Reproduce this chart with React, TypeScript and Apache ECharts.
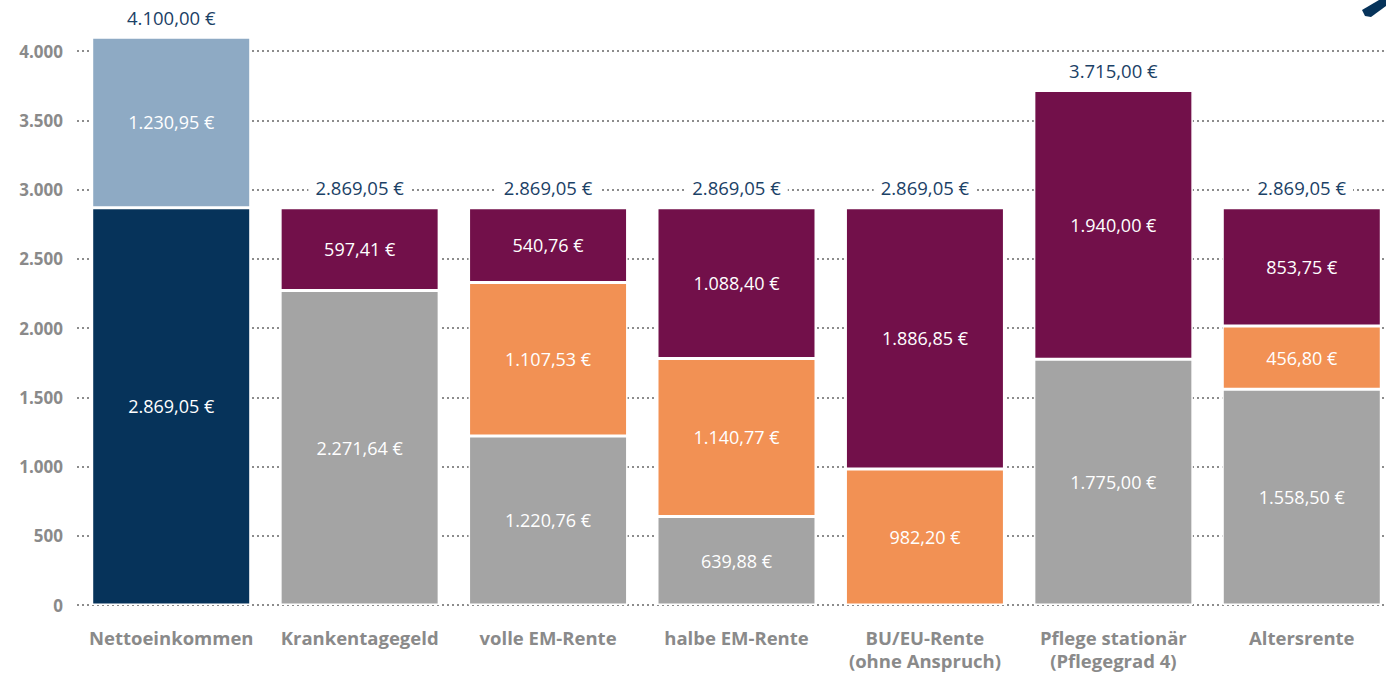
import React, { useEffect, useRef } from "react";
import * as echarts from "echarts";

const categories = [
  "Nettoeinkommen",
  "Krankentagegeld",
  "volle EM-Rente",
  "halbe EM-Rente",
  "BU/EU-Rente\n(ohne Anspruch)",
  "Pflege stationär\n(Pflegegrad 4)",
  "Altersrente",
];
const baseValues: (number | null)[] = [2869.05, 2271.64, 1220.76, 639.88, null, 1775.0, 1558.5];
const orangeValues: (number | null)[] = [null, null, 1107.53, 1140.77, 982.2, null, 456.8];
const topValues: (number | null)[] = [1230.95, 597.41, 540.76, 1088.4, 1886.85, 1940.0, 853.75];
const totals = [4100.0, 2869.05, 2869.05, 2869.05, 2869.05, 3715.0, 2869.05];
const yTicks = [0, 500, 1000, 1500, 2000, 2500, 3000, 3500, 4000];

const NAVY = "#06335a";
const LIGHTBLUE = "#8eaac4";
const GREY = "#a4a4a4";
const ORANGE = "#f29154";
const PURPLE = "#72104a";
const FONT = "'Open Sans', sans-serif";

function fmtInt(n: number): string {
  return String(Math.round(n)).replace(/\B(?=(\d{3})+(?!\d))/g, ".");
}
function fmtEuro(n: number): string {
  const fixed = n.toFixed(2);
  const [i, d] = fixed.split(".");
  return i.replace(/\B(?=(\d{3})+(?!\d))/g, ".") + "," + d + " €";
}

export default function App() {
  const ref = useRef<HTMLDivElement>(null);
  useEffect(() => {
    if (!ref.current) return;
    const chart = echarts.init(ref.current, null, { renderer: "svg" });
    const innerLabel = {
      show: true,
      position: "inside" as const,
      color: "#ffffff",
      fontFamily: FONT,
      fontSize: 18,
      formatter: (p: any) => fmtEuro(p.value),
    };
    const border = { borderColor: "#ffffff", borderWidth: 1.5 };
    chart.setOption({
      animation: false,
      grid: { left: 77, right: 0, top: 51, bottom: 69, containLabel: false },
      xAxis: {
        type: "category",
        data: categories,
        axisLine: { show: false },
        axisTick: { show: false },
        axisLabel: {
          color: "#8a8a8a",
          fontFamily: FONT,
          fontWeight: "bold",
          fontSize: 18.5,
          lineHeight: 23,
          margin: 21,
          interval: 0,
        },
      },
      yAxis: {
        type: "value",
        min: 0,
        max: 4000,
        interval: 500,
        axisLine: { show: false },
        axisTick: { show: false },
        axisLabel: {
          color: "#8a8a8a",
          fontFamily: FONT,
          fontWeight: "bold",
          fontSize: 17,
          margin: 14,
          formatter: (v: number) => (yTicks.includes(v) ? fmtInt(v) : ""),
        },
        splitLine: {
          lineStyle: { color: "#8c8c8c", type: [2, 3], width: 2 },
        },
      },
      series: [
        {
          type: "bar",
          stack: "s",
          barWidth: 159,
          clip: false,
          data: baseValues.map((v, i) =>
            v === null
              ? "-"
              : { value: v, itemStyle: { color: i === 0 ? NAVY : GREY, ...border } }
          ),
          label: innerLabel,
        },
        {
          type: "bar",
          stack: "s",
          clip: false,
          data: orangeValues.map((v) =>
            v === null ? "-" : { value: v, itemStyle: { color: ORANGE, ...border } }
          ),
          label: innerLabel,
        },
        {
          type: "bar",
          stack: "s",
          clip: false,
          data: topValues.map((v, i) =>
            v === null
              ? "-"
              : { value: v, itemStyle: { color: i === 0 ? LIGHTBLUE : PURPLE, ...border } }
          ),
          label: innerLabel,
        },
        {
          type: "bar",
          stack: "s",
          clip: false,
          data: totals.map(() => 0),
          itemStyle: { color: "transparent" },
          label: {
            show: true,
            position: "top",
            distance: 9,
            color: "#1b4166",
            fontFamily: FONT,
            fontSize: 18.5,
            lineHeight: 22,
            backgroundColor: "#ffffff",
            padding: [0, 7],
            formatter: (p: any) => fmtEuro(totals[p.dataIndex]),
          },
        },
      ],
      graphic: [
        {
          type: "polygon",
          shape: {
            points: [
              [1362, 10],
              [1379, 0],
              [1386, 0],
              [1386, 6],
              [1371, 17],
              [1365, 16],
            ],
          },
          style: { fill: NAVY },
        },
      ],
    });
    return () => chart.dispose();
  }, []);
  return (
    <div
      style={{
        position: "fixed",
        left: 0,
        top: 0,
        width: 1386,
        height: 674,
        overflow: "hidden",
        background: "#fff",
      }}
    >
      <div ref={ref} style={{ width: 1396, height: 674 }} />
    </div>
  );
}
